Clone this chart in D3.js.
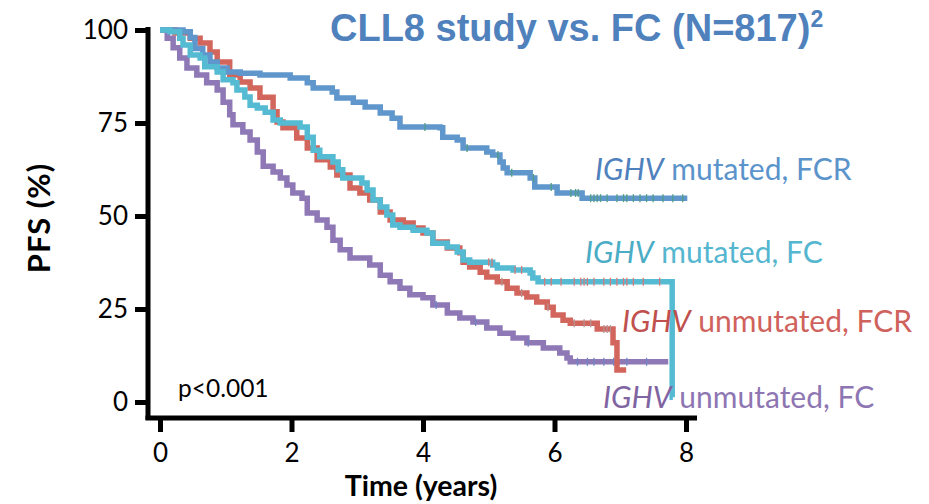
<!DOCTYPE html>
<html>
<head>
<meta charset="utf-8">
<script src="https://cdn.jsdelivr.net/npm/d3@7"></script>
<style>
  html, body { margin: 0; padding: 0; background: #fff; }
  svg { display: block; }
</style>
</head>
<body>
<svg id="chart" width="929" height="504"></svg>
<script>
// ---------- data (time in years, PFS in %) ----------
const xTicks = [0, 2, 4, 6, 8];
const yTicks = [0, 25, 50, 75, 100];

const mutFCR = [[0,100],[0.35,99.5],[0.46,98],[0.53,95],[0.65,93.3],[0.76,91.4],[0.87,89.8],[1.02,88.7],[1.22,88.4],[1.52,87.9],[1.98,87.1],[2.24,85.8],[2.33,84.4],[2.62,83.3],[2.69,81.7],[2.94,80.6],[3.12,79.3],[3.35,77.7],[3.53,76.3],[3.65,73.9],[4.26,73.7],[4.30,71.2],[4.52,70.4],[4.61,68.3],[4.90,68.3],[4.97,67.2],[5.06,66.4],[5.17,64.5],[5.22,62.9],[5.28,61.6],[5.51,61.6],[5.63,60.2],[5.70,57.8],[5.98,57.8],[6.04,56.2],[6.39,56.2],[6.42,54.8],[8.02,54.8]];
const mutFC = [[0,100],[0.15,99.5],[0.30,97.8],[0.35,96.0],[0.46,93.3],[0.61,92.5],[0.68,90.1],[0.87,88.7],[0.96,86.6],[1.11,85.8],[1.17,83.9],[1.29,82.0],[1.37,79.8],[1.48,79.0],[1.60,77.9],[1.72,75.8],[1.83,75.0],[2.13,73.9],[2.24,71.2],[2.33,67.7],[2.43,65.9],[2.63,64.5],[2.71,62.4],[2.78,60.2],[3.07,58.9],[3.15,57.0],[3.24,54.3],[3.35,52.4],[3.45,50.3],[3.54,47.6],[3.65,47.0],[3.85,46.2],[4.06,45.4],[4.15,42.7],[4.37,41.7],[4.52,40.3],[4.61,38.2],[4.71,37.6],[5.06,36.8],[5.13,36.0],[5.37,35.5],[5.63,34.7],[5.67,33.3],[5.75,32.3],[7.79,32.3],[7.79,1.3],[7.80,1.3]];
const unmutFCR = [[0,100],[0.23,99.2],[0.46,97.8],[0.61,96.5],[0.76,94.1],[0.87,91.4],[1.06,87.9],[1.22,86.0],[1.37,84.4],[1.52,81.9],[1.72,78.0],[1.78,75.3],[1.87,73.7],[2.08,71.0],[2.24,68.3],[2.39,65.1],[2.59,63.2],[2.69,61.0],[2.89,57.5],[3.04,56.2],[3.19,54.3],[3.35,51.1],[3.50,48.9],[3.70,48.1],[3.85,46.8],[4.00,45.4],[4.15,43.0],[4.37,41.4],[4.56,40.1],[4.61,37.6],[4.71,36.3],[4.87,34.9],[4.97,33.6],[5.13,32.3],[5.28,30.6],[5.43,29.3],[5.58,28.2],[5.73,26.9],[5.89,25.5],[5.98,23.4],[6.13,22.0],[6.24,21.2],[6.65,19.6],[6.89,15.9],[6.95,8.6],[7.09,8.6]];
const unmutFC = [[0,100],[0.11,97.8],[0.20,95.2],[0.30,92.5],[0.41,89.8],[0.56,87.9],[0.71,85.8],[0.87,83.9],[0.96,80.6],[1.06,77.2],[1.11,74.5],[1.26,72.6],[1.37,70.4],[1.48,67.2],[1.57,63.4],[1.72,61.8],[1.83,60.2],[1.93,58.3],[2.02,56.2],[2.16,54.8],[2.24,50.8],[2.39,48.9],[2.54,47.0],[2.63,43.5],[2.74,40.9],[2.89,38.7],[3.19,36.8],[3.35,34.1],[3.50,32.3],[3.65,30.6],[3.80,28.8],[4.00,28.0],[4.15,26.1],[4.37,23.9],[4.56,22.6],[4.76,21.5],[4.97,19.9],[5.17,18.5],[5.37,17.2],[5.58,15.9],[5.83,14.5],[6.08,13.2],[6.19,11.8],[6.24,10.8],[7.73,10.8]];

// censoring times (tick marks)
const censMutFCR = [4.03, 4.67, 5.14, 5.35, 5.68, 5.95, 6.25, 6.32, 6.36, 6.55, 6.6, 6.65, 6.7, 6.8, 6.95, 7.05, 7.1, 7.2, 7.3, 7.4, 7.5, 7.65, 7.8, 7.95];
const censMutFC = [5.0, 5.05, 5.4, 5.5, 5.85, 5.95, 6.1, 6.3, 6.4, 6.45, 6.5, 6.6, 6.75, 6.85, 6.95, 7.05, 7.1, 7.2, 7.35, 7.6];
const censUnmutFCR = [5.2, 5.5, 5.9, 6.3, 6.45, 6.55, 6.75, 6.8, 6.85];
const censUnmutFC = [4.2, 4.8, 5.6, 6.35, 6.5, 6.6, 6.75, 6.9, 7.1, 7.4];

const seriesNames = ["IGHV unmutated, FC", "IGHV unmutated, FCR", "IGHV mutated, FCR", "IGHV mutated, FC"];
// ---------- drawing ----------
const svg = d3.select("#chart");
const x = d3.scaleLinear().domain([0, 8]).range([160, 686]);
const y = d3.scaleLinear().domain([0, 100]).range([402, 30]);

const series = [
  {data: unmutFC, cens: censUnmutFC, color: "#8e78b6", cc: "#6f86c4"},
  {data: unmutFCR, cens: censUnmutFCR, color: "#d2665d", cc: "#b59090"},
  {data: mutFCR, cens: censMutFCR, color: "#5f96cc", cc: "#4f9e86"},
  {data: mutFC, cens: censMutFC, color: "#55bbd3", cc: "#d77a7a"}
];

const line = d3.line().x(d => x(d[0])).y(d => y(d[1])).curve(d3.curveStepAfter);
function valAt(data, t) {
  let v = data[0][1];
  for (const d of data) { if (d[0] <= t) v = d[1]; else break; }
  return v;
}

series.forEach(s => {
  svg.append("path").attr("d", line(s.data)).attr("fill", "none")
    .attr("stroke", s.color).attr("stroke-width", 5.5).attr("stroke-linejoin", "miter");
  svg.append("g").selectAll("line").data(s.cens).join("line")
    .attr("x1", d => x(d)).attr("x2", d => x(d))
    .attr("y1", d => y(valAt(s.data, d)) - 4).attr("y2", d => y(valAt(s.data, d)) + 4)
    .attr("stroke", s.cc).attr("stroke-width", 1.3);
});

// axes
const fontMain = "Lato, 'Open Sans', sans-serif";
const yAxis = d3.axisLeft(y).tickValues(yTicks).tickSize(13).tickSizeOuter(0).tickPadding(7);
const gy = svg.append("g").attr("transform", "translate(148,0)").call(yAxis);
const xAxis = d3.axisBottom(x).tickValues(xTicks).tickSize(14).tickSizeOuter(0).tickPadding(12);
const gx = svg.append("g").attr("transform", "translate(0,418)").call(xAxis);
[gx, gy].forEach(g => {
  g.select(".domain").remove();
  g.selectAll(".tick line").attr("stroke", "#000").attr("stroke-width", 5);
  g.selectAll(".tick text").attr("fill", "#000").style("font-family", fontMain).style("font-size", "26px");
});
svg.append("line").attr("x1", 148).attr("x2", 148).attr("y1", 27).attr("y2", 420).attr("stroke", "#000").attr("stroke-width", 5);
svg.append("line").attr("x1", 145.5).attr("x2", 697).attr("y1", 418).attr("y2", 418).attr("stroke", "#000").attr("stroke-width", 5);

// axis titles
svg.append("text").attr("transform", "translate(50,218) rotate(-90)").attr("text-anchor", "middle")
  .style("font-family", fontMain).style("font-weight", "bold").style("font-size", "31px")
  .style("letter-spacing", "1px").text("PFS (%)");
svg.append("text").attr("x", 421).attr("y", 496).attr("text-anchor", "middle")
  .style("font-family", fontMain).style("font-weight", "bold").style("font-size", "28.5px").text("Time (years)");

svg.append("text").attr("x", 178).attr("y", 397)
  .style("font-family", fontMain).style("font-size", "24.5px").text("p<0.001");

// title
const title = svg.append("text").attr("x", 330).attr("y", 41)
  .style("font-family", "'Liberation Sans', Arial, sans-serif").style("font-weight", "bold")
  .style("font-size", "38px").attr("fill", "#4f81bd");
title.append("tspan").text("CLL8 study vs. FC (N=817)");
title.append("tspan").attr("dy", -14).style("font-size", "23px").text("2");

// series labels
const labels = [
  {name: seriesNames[2], x: 595, y: 180, c1: "#4f81bd", c2: "#5b93cb"},
  {name: seriesNames[3], x: 585, y: 263, c1: "#4bacc6", c2: "#55b6d0"},
  {name: seriesNames[1], x: 622, y: 332, c1: "#c0504d", c2: "#cf625c"},
  {name: seriesNames[0], x: 603, y: 408, c1: "#8064a2", c2: "#8e76b3"}
];
labels.forEach(l => {
  const t = svg.append("text").attr("x", l.x).attr("y", l.y)
    .style("font-family", fontMain).style("font-size", "30px");
  const parts = l.name.split(" ");
  t.append("tspan").style("font-style", "italic").attr("fill", l.c1).text(parts[0]);
  t.append("tspan").attr("fill", l.c2).text(" " + parts.slice(1).join(" "));
});
</script>
</body>
</html>
